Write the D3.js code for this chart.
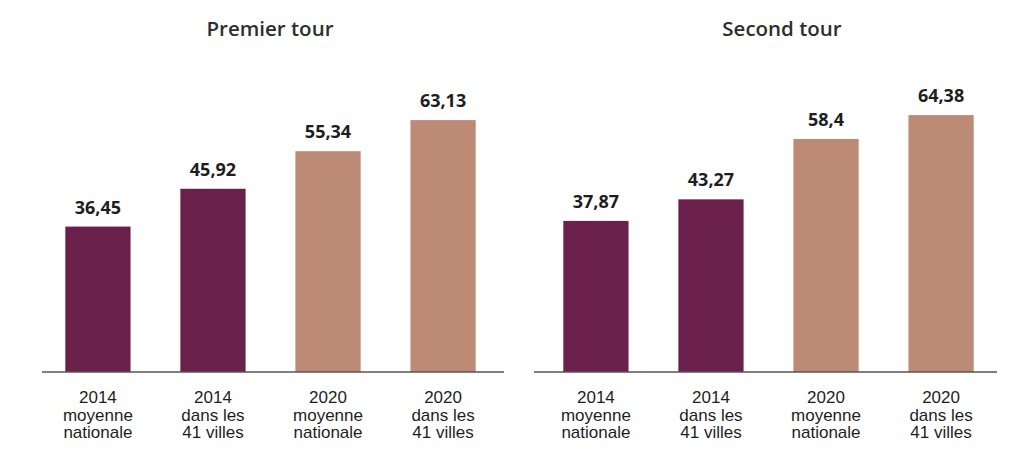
<!DOCTYPE html>
<html>
<head>
<meta charset="utf-8">
<script src="https://cdn.jsdelivr.net/npm/d3@7"></script>
<style>
  html, body { margin: 0; padding: 0; background: #fff; }
  svg { display: block; }
</style>
</head>
<body>
<div id="chart"></div>
<script>
// Data
const categories = [
  ['2014', 'moyenne', 'nationale'],
  ['2014', 'dans les', '41 villes'],
  ['2020', 'moyenne', 'nationale'],
  ['2020', 'dans les', '41 villes']
];
const years = ['2014', '2014', '2020', '2020'];
const panelTitles = ['Premier tour', 'Second tour'];
const premierTour = [36.45, 45.92, 55.34, 63.13];
const secondTour = [37.87, 43.27, 58.4, 64.38];

const colorByYear = d3.scaleOrdinal()
  .domain(['2014', '2020'])
  .range(['#6b204c', '#bc8a75']);

const W = 1030, H = 460;
const baseY = 372;

const svg = d3.select('#chart')
  .append('svg')
  .attr('width', W)
  .attr('height', H);

const y = d3.scaleLinear()
  .domain([0, 70])
  .range([baseY, baseY - 279.3]);

const fmt = v => String(v).replace('.', ',');

// panel layout: axis line extent, band range, title center
const panels = [
  { title: panelTitles[0], values: premierTour, line: [42, 504], band: [40, 501], titleX: 270 },
  { title: panelTitles[1], values: secondTour, line: [534, 997], band: [538, 999], titleX: 782 }
];

panels.forEach(p => {
  const g = svg.append('g');

  const x = d3.scaleBand()
    .domain(d3.range(categories.length))
    .range(p.band)
    .paddingInner(0.433)
    .paddingOuter(0.22);

  // title
  g.append('text')
    .attr('x', p.titleX)
    .attr('y', 36)
    .attr('text-anchor', 'middle')
    .attr('font-family', '"Open Sans", sans-serif')
    .attr('font-size', 20.5)
    .attr('font-weight', 600)
    .attr('fill', '#2e2e2e')
    .text(p.title);

  // bars
  g.selectAll('rect.bar')
    .data(p.values)
    .enter()
    .append('rect')
    .attr('class', 'bar')
    .attr('x', (d, i) => x(i))
    .attr('y', d => y(d))
    .attr('width', x.bandwidth())
    .attr('height', d => y(0) - y(d))
    .attr('fill', (d, i) => colorByYear(years[i]));

  // value labels
  g.selectAll('text.value')
    .data(p.values)
    .enter()
    .append('text')
    .attr('class', 'value')
    .attr('x', (d, i) => x(i) + x.bandwidth() / 2)
    .attr('y', d => y(d) - 13)
    .attr('text-anchor', 'middle')
    .attr('font-family', '"Open Sans", sans-serif')
    .attr('font-size', 18)
    .attr('font-weight', 700)
    .attr('fill', '#1e1e1e')
    .text(d => fmt(d));

  // baseline
  g.append('line')
    .attr('x1', p.line[0])
    .attr('x2', p.line[1])
    .attr('y1', baseY)
    .attr('y2', baseY)
    .attr('stroke', '#555')
    .attr('stroke-width', 1.5);

  // category labels
  const labels = g.selectAll('text.cat')
    .data(categories)
    .enter()
    .append('text')
    .attr('class', 'cat')
    .attr('text-anchor', 'middle')
    .attr('font-family', '"Liberation Sans", Arial, sans-serif')
    .attr('font-size', 17)
    .attr('fill', '#1e1e1e');

  labels.selectAll('tspan')
    .data((d, i) => d.map(t => ({ t, i })))
    .enter()
    .append('tspan')
    .attr('x', d => x(d.i) + x.bandwidth() / 2)
    .attr('y', (d, j) => 403 + j * 17.5)
    .text(d => d.t);
});
</script>
</body>
</html>
